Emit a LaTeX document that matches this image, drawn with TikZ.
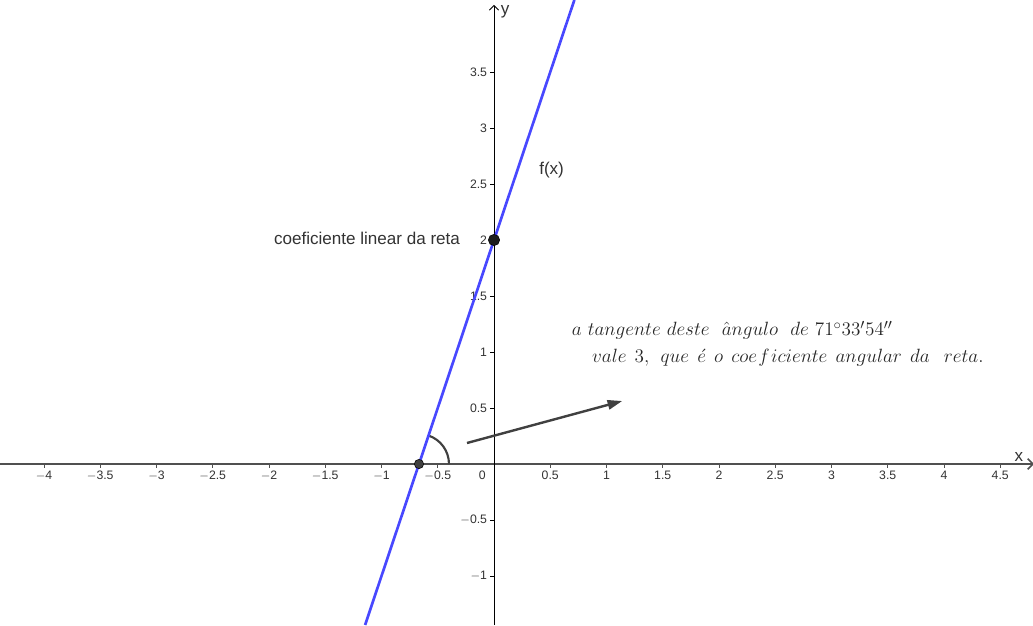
\documentclass[tikz,border=0pt]{standalone}
\usepackage{fontspec}
\usetikzlibrary{arrows.meta}
\newfontfamily\labfont{Liberation Sans}
\definecolor{ggblue}{RGB}{72,72,255}
\definecolor{ggdark}{RGB}{64,64,64}
\definecolor{ptblack}{RGB}{30,30,30}
\definecolor{axgray}{RGB}{80,80,80}
\definecolor{txtgray}{RGB}{51,51,51}
\newcommand{\wsp}{\ \hspace{1.6pt}}
\tikzset{
  ticklab/.style={font=\labfont\fontsize{9.2}{10}\selectfont, text=txtgray, inner sep=1pt},
  dotnode/.style={circle, fill=#1, draw=black, line width=0.4pt, minimum size=8pt, inner sep=0pt},
  lab/.style={font=\labfont\fontsize{12.8}{14}\selectfont, text=txtgray, inner sep=0pt},
  mathtxt/.style={font=\fontsize{15}{20}\selectfont, align=left, inner sep=0pt, text=black!85},
}
\begin{document}
\begin{tikzpicture}[x=84.375pt, y=84pt]
\useasboundingbox (-4.3911,-1.4375) rectangle (4.7911,4.1429);
% axes
\coordinate (xl) at (-4.3911,0);
\coordinate (xr) at (4.80,0);
\coordinate (yb) at (0,-1.4375);
\coordinate (yt) at (0,4.10);
\draw[axgray, line width=1.1pt, -{Straight Barb[length=4pt,width=8pt]}] (xl) -- (xr);
\draw[black, line width=0.7pt, -{Straight Barb[length=3.5pt,width=7pt]}] (yb) -- (yt);
% x ticks and labels
\foreach \v/\t in {-4/$-$4,-3.5/$-$3.5,-3/$-$3,-2.5/$-$2.5,-2/$-$2,-1.5/$-$1.5,-1/$-$1,-0.5/$-$0.5,0.5/0.5,1/1,1.5/1.5,2/2,2.5/2.5,3/3,3.5/3.5,4/4,4.5/4.5}{
  \draw[axgray, line width=0.6pt] (\v,0) -- ++(0,-3pt);
  \node[ticklab, anchor=north] (tx\v) at ([yshift=-4pt]\v,0) {\t};
}
\node[ticklab, anchor=north east] (t0) at ([xshift=-5pt,yshift=-4pt]0,0) {0};
% y ticks and labels
\foreach \v/\t in {-1/$-$1,-0.5/$-$0.5,0.5/0.5,1/1,1.5/1.5,2/2,2.5/2.5,3/3,3.5/3.5}{
  \draw[black, line width=0.6pt] (0,\v) -- ++(-3pt,0);
  \node[ticklab, anchor=east] (ty\v) at ([xshift=-4pt]0,\v) {\t};
}
\node[lab, anchor=south west] (xlab) at ([xshift=-14pt,yshift=2pt]4.7911,0) {x};
\node[lab, anchor=north west] (ylab) at ([xshift=5pt]0,4.10) {y};
% angle arc
\coordinate (P0) at (-0.6667,0);
\draw[ggdark, line width=1.6pt] ([xshift=22.5pt]P0) arc[start angle=0, end angle=71.565, radius=22.5pt];
% line f(x)=3x+2
\coordinate (lb) at (-1.1458,-1.4375);
\coordinate (lt) at (0.7143,4.1429);
\draw[ggblue, line width=2pt] (lb) -- (lt);
% points
\node[dotnode=ggdark, minimum size=7pt] (P) at (P0) {};
\node[dotnode=ptblack, minimum size=8.5pt] (Q) at (0,2) {};
% labels
\node[lab, anchor=west] (fx) at (0.40,2.625) {f(x)};
\node[lab, anchor=east] (coef) at (-0.30,2.0179) {coeficiente linear da reta};
% vector
\coordinate (vs) at (-0.24,0.1875);
\coordinate (ve) at (1.14,0.5625);
\draw[ggdark, line width=1.8pt, -{Triangle[length=11pt,width=7pt]}] (vs) -- (ve);
% text
\node[mathtxt, anchor=base west] (t1) at (0.69,1.1429) {$a\ tangente\ deste\ \ \hat{a}ngulo\ \ de\ 71^\circ33'54''$};
\node[mathtxt, anchor=base west] (t2) at (0.87,0.9107) {$vale\wsp 3,\wsp que\wsp \acute{e}\wsp o\wsp coe\hspace{1pt}f\hspace{1pt}iciente\wsp angular\wsp da\wsp\ reta.$};
\end{tikzpicture}
\end{document}
